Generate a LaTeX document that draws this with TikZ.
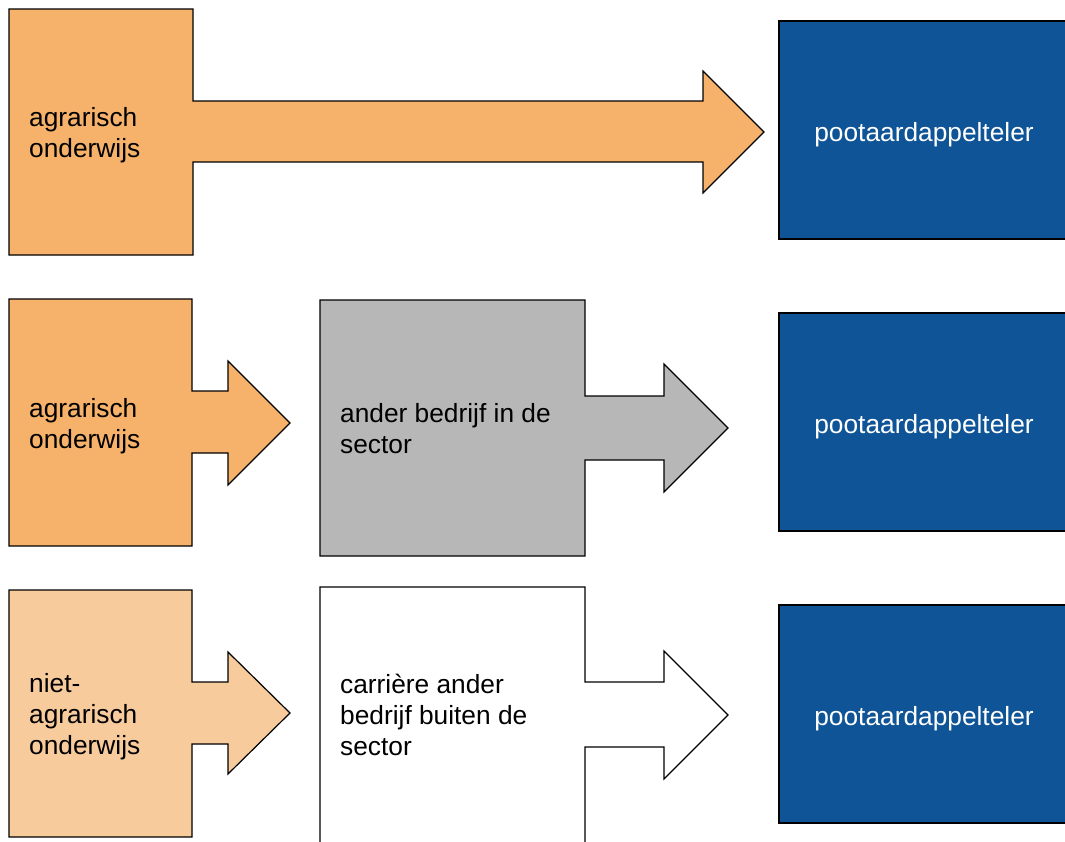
\documentclass[tikz,border=0pt]{standalone}
\usepackage{fontspec}
\setmainfont{Liberation Sans}
\definecolor{orangeA}{HTML}{F6B26B}
\definecolor{orangeB}{HTML}{F8CB9D}
\definecolor{greyA}{HTML}{B7B7B7}
\definecolor{blueA}{HTML}{0F5496}
\tikzset{
  shapeline/.style={draw=black, line width=1.2pt, line join=miter},
  lbl/.style={anchor=base west, inner sep=0pt, align=left, text=black,
    font=\fontsize{26.3}{31}\selectfont},
  bluelbl/.style={anchor=base, inner sep=0pt, text=white,
    font=\fontsize{26.3}{31}\selectfont},
}
\begin{document}
\begin{tikzpicture}[x=1pt, y=-1pt]
\useasboundingbox (0,0) rectangle (1065,841);
\clip (0,0) rectangle (1065,841);
% row 1
\draw[shapeline, fill=orangeA] (9,9) -- (193,9) -- (193,101) -- (703,101) -- (703,71) -- (764,132) -- (703,193) -- (703,162) -- (193,162) -- (193,255) -- (9,255) -- cycle;
\draw[shapeline, fill=blueA] (1075,21) -- (779,21) -- (779,239) -- (1075,239);
\node[lbl] (t1) at (29,157) {agrarisch\\onderwijs};
\node[bluelbl] (p1) at (924,141) {pootaardappelteler};
% row 2
\draw[shapeline, fill=orangeA] (9,299) -- (192,299) -- (192,391) -- (228,391) -- (228,361) -- (290,423) -- (228,485) -- (228,453) -- (192,453) -- (192,546) -- (9,546) -- cycle;
\draw[shapeline, fill=greyA] (320,300) -- (585,300) -- (585,396) -- (664,396) -- (664,364) -- (728,428) -- (664,492) -- (664,460) -- (585,460) -- (585,556) -- (320,556) -- cycle;
\draw[shapeline, fill=blueA] (1075,313) -- (779,313) -- (779,531) -- (1075,531);
\node[lbl] (t2) at (29,448) {agrarisch\\onderwijs};
\node[lbl] (g2) at (340,453) {ander bedrijf in de\\sector};
\node[bluelbl] (p2) at (924,433) {pootaardappelteler};
% row 3
\draw[shapeline, fill=orangeB] (9,590) -- (192,590) -- (192,682) -- (228,682) -- (228,652) -- (290,713) -- (228,774) -- (228,744) -- (192,744) -- (192,837) -- (9,837) -- cycle;
\draw[shapeline, fill=white] (320,860) -- (320,587) -- (585,587) -- (585,682) -- (664,682) -- (664,651) -- (728,715) -- (664,779) -- (664,747) -- (585,747) -- (585,860);
\draw[shapeline, fill=blueA] (1075,605) -- (779,605) -- (779,823) -- (1075,823);
\node[lbl] (t3) at (29,754) {niet-\\agrarisch\\onderwijs};
\node[lbl] (w3) at (340,755) {carrière ander\\bedrijf buiten de\\sector};
\node[bluelbl] (p3) at (924,725) {pootaardappelteler};
\end{tikzpicture}
\end{document}
